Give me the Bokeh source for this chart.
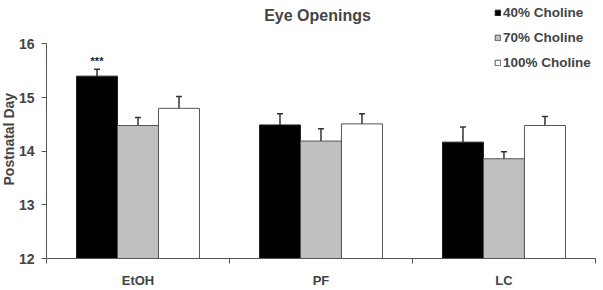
from bokeh.plotting import figure
from bokeh.models import (ColumnDataSource, FixedTicker, Whisker, TeeHead, Legend, LegendItem, Label, Title)
from bokeh.transform import dodge
from bokeh.core.properties import value
from bokeh.embed import file_html
from bokeh.resources import INLINE

categories = ["EtOH", "PF", "LC"]
series = ["40% Choline", "70% Choline", "100% Choline"]
means_40 = [15.40, 14.49, 14.17]
means_70 = [14.48, 14.19, 13.86]
means_100 = [14.80, 14.51, 14.48]
sem_40 = [0.13, 0.21, 0.28]
sem_70 = [0.15, 0.23, 0.13]
sem_100 = [0.22, 0.19, 0.17]
sig_40 = ["***", "", ""]
title_text = "Eye Openings"
y_label = "Postnatal Day"
y_ticks = [12, 13, 14, 15, 16]

FONT = "Liberation Sans"
colors = ["#000000", "#c0c0c0", "#ffffff"]
outlines = ["#222222", "#555555", "#555555"]
offsets = [-0.224, 0.0, 0.224]
bw = 0.224

xc = [i + 1 for i in range(len(categories))]

# frame: left 46 .. right 603, top 0 .. bottom 261 (px)
p = figure(width=603, height=290, x_range=(0.5, 3.544), y_range=(12, 16.811),
           output_backend="svg", toolbar_location=None,
           min_border_left=46, min_border_right=0, min_border_top=0, min_border_bottom=29)
p.background_fill_color = "white"
p.border_fill_color = "white"
p.outline_line_color = None
p.grid.visible = False

items = []
for means, sems, col, oc, off, name in zip([means_40, means_70, means_100],
                                            [sem_40, sem_70, sem_100],
                                            colors, outlines, offsets, series):
    src = ColumnDataSource(dict(x=xc, top=means,
                                upper=[m + s for m, s in zip(means, sems)]))
    r = p.vbar(x=dodge("x", off, range=p.x_range), top="top", bottom=12, width=bw,
               source=src, fill_color=col, line_color=oc, line_width=1)
    items.append(LegendItem(label=name, renderers=[r]))
    w = Whisker(base=dodge("x", off, range=p.x_range), lower="top", upper="upper",
                source=src, dimension="height", line_color="#333333", line_width=1.5,
                upper_head=TeeHead(size=6, line_color="#333333", line_width=1.5),
                lower_head=None)
    p.add_layout(w)

# significance marks
ssrc = ColumnDataSource(dict(x=xc, y=[m + s for m, s in zip(means_40, sem_40)], t=sig_40))
p.text(x=dodge("x", offsets[0], range=p.x_range), y="y", text="t", source=ssrc,
       text_font=value(FONT), text_font_size="11px", text_font_style="bold",
       text_align="center", text_baseline="bottom", y_offset=-2, text_color="#222222")

# axes
yax = p.yaxis[0]
yax.ticker = FixedTicker(ticks=y_ticks)
yax.bounds = (12, 16)
yax.major_label_text_font = FONT
yax.major_label_text_font_style = "bold"
yax.major_label_text_font_size = "14px"
yax.major_tick_in = 0
yax.major_tick_out = 5
yax.minor_tick_line_color = None
yax.axis_line_color = "#555555"
yax.major_tick_line_color = "#555555"
yax.major_label_standoff = 7

ytitle = Title(text=y_label, align="left", offset=73, standoff=-3,
               text_font=FONT, text_font_style="bold", text_font_size="14px")
p.add_layout(ytitle, "left")

xax = p.xaxis[0]
xax.ticker = FixedTicker(ticks=xc, minor_ticks=[0.5, 1.5, 2.5, 3.5])
xax.bounds = (0.5, 3.5)
xax.major_label_overrides = {i + 1: c for i, c in enumerate(categories)}
xax.major_tick_line_color = None
xax.minor_tick_in = 0
xax.minor_tick_out = 5
xax.minor_tick_line_color = "#555555"
xax.axis_line_color = "#555555"
xax.major_label_text_font = FONT
xax.major_label_text_font_style = "bold"
xax.major_label_text_font_size = "13px"
xax.major_label_standoff = 8

legend = Legend(items=items, location=(448, 186), orientation="vertical",
                label_text_font=FONT, label_text_font_style="bold",
                label_text_font_size="13.5px", glyph_width=7, glyph_height=7,
                label_standoff=2, label_height=20, spacing=5, padding=0, margin=0,
                border_line_color=None, background_fill_alpha=0)
p.add_layout(legend)

p.add_layout(Label(x=1.981, y=16.535, text=title_text, text_font=FONT, text_font_style="bold",
                   text_font_size="16px", text_align="center", text_baseline="middle"))

open("out.html", "w").write(file_html(p, INLINE))
